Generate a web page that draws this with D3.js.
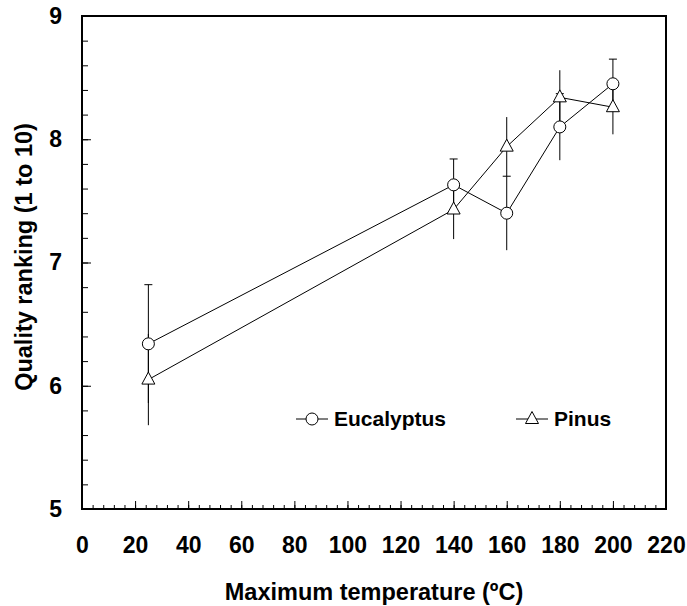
<!DOCTYPE html>
<html>
<head>
<meta charset="utf-8">
<script src="https://cdn.jsdelivr.net/npm/d3@7"></script>
<style>
  html, body { margin: 0; padding: 0; background: #fff; }
  svg { display: block; font-family: "Liberation Sans", Arial, sans-serif; }
</style>
</head>
<body>
<svg id="chart"></svg>
<script>
// values
const temps = [25, 140, 160, 180, 200];
const eucalyptusMean = [6.34, 7.63, 7.40, 8.10, 8.45];
const eucalyptusErr = [0.48, 0.21, 0.30, 0.27, 0.20];
const pinusMean = [6.05, 7.43, 7.94, 8.34, 8.26];
const pinusErr = [0.37, 0.24, 0.24, 0.22, 0.22];
const xTicks = [0, 20, 40, 60, 80, 100, 120, 140, 160, 180, 200, 220];
const yTicks = [5, 6, 7, 8, 9];

const width = 687, height = 606;
const margin = { top: 16, right: 21, bottom: 97, left: 82 };
const innerW = width - margin.left - margin.right;
const innerH = height - margin.top - margin.bottom;

const svg = d3.select("#chart").attr("width", width).attr("height", height);
const g = svg.append("g").attr("transform", `translate(${margin.left},${margin.top})`);

const x = d3.scaleLinear().domain([0, 220]).range([0, innerW]);
const y = d3.scaleLinear().domain([5, 9]).range([innerH, 0]);

// minor ticks first, majors on top
g.append("g")
  .attr("transform", `translate(0,${innerH})`)
  .call(d3.axisBottom(x).tickValues(d3.range(0, 221, 4)).tickSize(-4).tickSizeOuter(0).tickFormat(""))
  .call((a) => a.select(".domain").remove());
g.append("g")
  .call(d3.axisLeft(y).tickValues(d3.range(5, 9.01, 0.2)).tickSize(-6).tickSizeOuter(0).tickFormat(""))
  .call((a) => a.select(".domain").remove());

const xAxis = g.append("g")
  .attr("transform", `translate(0,${innerH})`)
  .call(d3.axisBottom(x).tickValues(xTicks).tickSize(-8).tickSizeOuter(0).tickPadding(28));
const yAxis = g.append("g")
  .call(d3.axisLeft(y).tickValues(yTicks).tickSize(-9).tickSizeOuter(0).tickPadding(20).tickFormat(d3.format("d")));

[xAxis, yAxis].forEach((a) => {
  a.select(".domain").remove();
  a.selectAll("text")
    .attr("font-size", 23)
    .attr("font-weight", "bold")
    .attr("fill", "#000")
    .attr("font-family", "Liberation Sans, Arial, sans-serif");
});
g.selectAll(".tick line").attr("stroke", "#000").attr("stroke-width", 1);

g.append("rect")
  .attr("x", 0).attr("y", 0)
  .attr("width", innerW).attr("height", innerH)
  .attr("fill", "none")
  .attr("stroke", "#000")
  .attr("stroke-width", 2);

const series = [
  { name: "Eucalyptus", mean: eucalyptusMean, err: eucalyptusErr, symbol: "circle", cap: true },
  { name: "Pinus", mean: pinusMean, err: pinusErr, symbol: "triangle", cap: false },
];

const line = d3.line().x((d) => x(d.t)).y((d) => y(d.v));

function drawMarker(sel, kind) {
  if (kind === "circle") {
    sel.append("circle").attr("r", 6);
  } else {
    sel.append("path").attr("d", "M0,-7.5 L6.5,4.5 L-6.5,4.5 Z");
  }
  sel.selectAll("circle,path")
    .attr("fill", "#fff")
    .attr("stroke", "#000")
    .attr("stroke-width", 1);
}

// error bars
series.forEach((s) => {
  const pts = temps.map((t, i) => ({ t, v: s.mean[i], e: s.err[i] }));
  const eb = g.append("g");
  eb.selectAll("line.bar")
    .data(pts)
    .join("line")
    .attr("class", "bar")
    .attr("x1", (d) => x(d.t)).attr("x2", (d) => x(d.t))
    .attr("y1", (d) => y(d.v - d.e)).attr("y2", (d) => y(d.v + d.e))
    .attr("stroke", "#000").attr("stroke-width", 1);
  if (s.cap) {
    eb.selectAll("line.cap")
      .data(pts)
      .join("line")
      .attr("class", "cap")
      .attr("x1", (d) => x(d.t) - 4).attr("x2", (d) => x(d.t) + 4)
      .attr("y1", (d) => y(d.v + d.e)).attr("y2", (d) => y(d.v + d.e))
      .attr("stroke", "#000").attr("stroke-width", 1);
  }
});

// lines and markers
series.forEach((s) => {
  const pts = temps.map((t, i) => ({ t, v: s.mean[i] }));
  g.append("path")
    .datum(pts)
    .attr("d", line)
    .attr("fill", "none")
    .attr("stroke", "#000")
    .attr("stroke-width", 1);
});
series.forEach((s) => {
  const pts = temps.map((t, i) => ({ t, v: s.mean[i] }));
  g.append("g")
    .selectAll("g")
    .data(pts)
    .join("g")
    .attr("transform", (d) => `translate(${x(d.t)},${y(d.v)})`)
    .each(function () { drawMarker(d3.select(this), s.symbol); });
});

// legend
const legendItems = [
  { name: "Eucalyptus", symbol: "circle", cx: 312 },
  { name: "Pinus", symbol: "triangle", cx: 532 },
];
const legend = svg.append("g");
legendItems.forEach((item) => {
  const lg = legend.append("g").attr("transform", `translate(${item.cx},419)`);
  lg.append("line").attr("x1", -16).attr("x2", 16).attr("stroke", "#000").attr("stroke-width", 1);
  drawMarker(lg, item.symbol);
  lg.append("text")
    .attr("x", 22)
    .attr("dy", "0.35em")
    .attr("font-size", 21)
    .attr("font-weight", "bold")
    .text(item.name);
});

// axis titles
svg.append("text")
  .attr("x", margin.left + innerW / 2)
  .attr("y", 600)
  .attr("text-anchor", "middle")
  .attr("font-size", 23.5)
  .attr("font-weight", "bold")
  .text("Maximum temperature (ºC)");

svg.append("text")
  .attr("transform", `translate(32,257) rotate(-90)`)
  .attr("text-anchor", "middle")
  .attr("font-size", 23.5)
  .attr("font-weight", "bold")
  .text("Quality ranking (1 to 10)");
</script>
</body>
</html>
